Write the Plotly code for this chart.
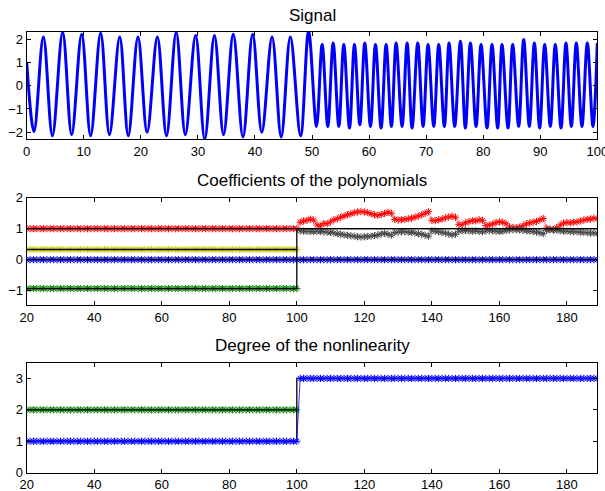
import plotly.graph_objects as go

# ---------------- data ----------------
# Signal: turning points (time, amplitude) of the measured signal
sig_t = [0.0, 1.28, 2.92, 4.5, 6.3, 7.88, 9.63, 11.2, 12.96, 14.5, 16.3, 17.8, 19.5,
         21.1, 22.9, 24.5, 26.2, 27.8, 29.6, 31.2, 32.9, 34.5, 36.2, 37.9, 39.6, 41.2,
         43.0, 44.6, 46.2, 48.0, 49.4,
         50.79, 51.78, 52.77, 53.71, 54.70, 55.57, 56.57, 57.44, 58.38, 59.25, 60.25,
         61.12, 62.11, 62.99, 63.92, 64.74, 65.79, 66.67, 67.54, 68.53, 69.47, 70.34,
         71.34, 72.21, 73.20, 74.02, 75.01, 76.01, 76.88, 77.76, 78.75, 79.63, 80.68,
         81.55, 82.54, 83.30, 84.35, 85.17, 86.22, 87.10, 88.09, 88.97, 89.90, 90.78,
         91.77, 92.64, 93.64, 94.51, 95.45, 96.32, 97.31, 98.25, 99.24, 100.0]
sig_v = [1.0, -1.97, 2.09, -2.15, 2.29, -2.1, 2.2, -2.15, 2.26, -2.1, 2.09, -2.15, 2.09,
         -2.0, 2.09, -2.15, 2.29, -2.1, 2.15, -2.3, 2.15, -2.1, 2.2, -2.2, 2.2, -2.0,
         2.09, -2.2, 2.09, -2.15, 2.33,
         -1.75, 1.76, -1.75, 1.83, -1.75, 1.76, -1.82, 1.76, -1.68, 1.83, -1.75,
         1.76, -1.82, 1.76, -1.75, 1.83, -1.75, 1.83, -1.82, 1.83, -1.75, 1.76,
         -1.75, 1.76, -1.75, 1.83, -1.75, 1.90, -1.82, 1.83, -1.75, 1.76, -1.82,
         1.76, -1.82, 1.76, -1.82, 1.76, -1.75, 1.98, -1.75, 1.83, -1.82, 1.76,
         -1.75, 1.76, -1.82, 1.83, -1.75, 1.83, -1.75, 1.83, -1.75, 1.83]

# Coefficient estimates
k_first = list(range(20, 101))     # samples 20..100
k_second = list(range(101, 190))   # samples 101..189
k_all = k_first + k_second

coef_red_after = [1.21, 1.25, 1.27, 1.31, 1.28, 1.12, 1.09, 1.17, 1.16, 1.22,
                  1.29, 1.32, 1.37, 1.41, 1.45, 1.48, 1.52, 1.54, 1.55, 1.54,
                  1.52, 1.48, 1.45, 1.43, 1.46, 1.49, 1.53, 1.50, 1.30, 1.28,
                  1.29, 1.30, 1.32, 1.34, 1.37, 1.41, 1.45, 1.50, 1.55, 1.27,
                  1.26, 1.29, 1.31, 1.35, 1.38, 1.40, 1.37, 1.14, 1.13, 1.19,
                  1.23, 1.26, 1.25, 1.29, 1.27, 1.10, 1.12, 1.15, 1.20, 1.22,
                  1.21, 1.16, 1.05, 1.04, 1.03, 1.05, 1.10, 1.16, 1.19, 1.21,
                  1.23, 1.28, 1.33, 1.02, 0.99, 0.97, 1.03, 1.12, 1.18, 1.20,
                  1.19, 1.21, 1.22, 1.25, 1.28, 1.30, 1.31, 1.34, 1.33]
coef_gray_after = [0.93, 0.92, 0.91, 0.91, 0.90, 0.92, 0.91, 0.90, 0.89, 0.88,
                   0.86, 0.84, 0.82, 0.80, 0.79, 0.77, 0.76, 0.74, 0.73, 0.74,
                   0.75, 0.76, 0.78, 0.80, 0.83, 0.85, 0.82, 0.79, 0.88, 0.89,
                   0.90, 0.90, 0.89, 0.88, 0.86, 0.84, 0.82, 0.79, 0.76, 0.93,
                   0.92, 0.90, 0.88, 0.86, 0.83, 0.80, 0.82, 0.92, 0.93, 0.94,
                   0.93, 0.92, 0.93, 0.91, 0.90, 0.93, 0.94, 0.93, 0.92, 0.91,
                   0.92, 0.94, 0.96, 0.97, 0.96, 0.96, 0.95, 0.93, 0.92, 0.91,
                   0.89, 0.87, 0.84, 0.95, 0.96, 0.96, 0.95, 0.93, 0.92, 0.92,
                   0.91, 0.90, 0.90, 0.89, 0.88, 0.87, 0.86, 0.86, 0.85]
coef_red = [1.0] * len(k_first) + coef_red_after
coef_yellow = [0.33] * len(k_first)
coef_blue = [0.0] * len(k_all)
coef_green = [-0.93] * len(k_first)

# True coefficients (step at sample 100)
true_one_x, true_one_y = [20, 189], [1.0, 1.0]
true_yel_x, true_yel_y = [20, 100], [0.33, 0.33]
true_zero_x, true_zero_y = [20, 189], [0.0, 0.0]
true_grn_x, true_grn_y = [20, 100, 100, 189], [-0.93, -0.93, 1.0, 1.0]

# Degree of the nonlinearity
deg_green = [2] * len(k_first)
deg_blue = [1] * len(k_first) + [3] * len(k_second)
true_deg2_x, true_deg2_y = [20, 100], [2, 2]
true_deg_x, true_deg_y = [20, 100, 100, 189], [1, 1, 3, 3]

# ---------------- styling ----------------
FONT = "Liberation Sans, Arial, Helvetica, sans-serif"
RED = "rgb(255,0,0)"
YEL = "rgb(210,210,0)"
BLUE = "rgb(0,0,255)"
GREEN = "rgb(0,128,0)"
GRAY = "rgb(70,70,70)"

fig = go.Figure()


def stars(x, y, color, xa, ya, size=6, lw=0.5):
    fig.add_trace(go.Scatter(
        x=x, y=y, mode="lines+markers", xaxis=xa, yaxis=ya,
        line=dict(color=color, width=lw),
        marker=dict(symbol="asterisk-open", size=size,
                    line=dict(color=color, width=1)),
        showlegend=False, hoverinfo="skip"))


def black(x, y, xa, ya):
    fig.add_trace(go.Scatter(
        x=x, y=y, mode="lines", xaxis=xa, yaxis=ya,
        line=dict(color="black", width=1.3),
        showlegend=False, hoverinfo="skip"))


# Signal
fig.add_trace(go.Scatter(
    x=sig_t, y=sig_v, mode="lines", xaxis="x", yaxis="y",
    line=dict(color=BLUE, width=3, shape="spline", smoothing=1.0),
    showlegend=False, hoverinfo="skip"))

# Coefficients
stars(k_all, coef_red, RED, "x2", "y2")
stars(k_second, coef_gray_after, GRAY, "x2", "y2")
stars(k_first, coef_yellow, YEL, "x2", "y2")
stars(k_first, coef_green, GREEN, "x2", "y2")
stars(k_all, coef_blue, BLUE, "x2", "y2")
black(true_one_x, true_one_y, "x2", "y2")
black(true_yel_x, true_yel_y, "x2", "y2")
black(true_zero_x, true_zero_y, "x2", "y2")
black(true_grn_x, true_grn_y, "x2", "y2")

# Degree
stars(k_first, deg_green, GREEN, "x3", "y3")
black(true_deg2_x, true_deg2_y, "x3", "y3")
black(true_deg_x, true_deg_y, "x3", "y3")
stars(k_all, deg_blue, BLUE, "x3", "y3", lw=0.8)

axis_common = dict(
    showline=True, linecolor="black", linewidth=1, mirror="ticks",
    ticks="inside", ticklen=4, tickcolor="black", tickwidth=1,
    showgrid=False, zeroline=False, automargin=False,
    ticklabeloverflow="allow",
    tickfont=dict(family=FONT, size=13, color="black"),
)

x_dom = [26.7 / 605, 597.3 / 605]


def ydom(top_px, bottom_px):
    return [1 - bottom_px / 491, 1 - top_px / 491]


fig.update_layout(
    width=605, height=491,
    margin=dict(l=0, r=0, t=0, b=0),
    paper_bgcolor="white", plot_bgcolor="white",
    font=dict(family=FONT, color="black"),
    xaxis=dict(axis_common, domain=x_dom, range=[0, 100], tickvals=list(range(0, 101, 10)),
               anchor="y"),
    yaxis=dict(axis_common, domain=ydom(32, 139.3), range=[-2.3, 2.3],
               tickvals=[-2, -1, 0, 1, 2], anchor="x"),
    xaxis2=dict(axis_common, domain=x_dom, range=[20, 189], tickvals=list(range(20, 181, 20)),
                anchor="y2"),
    yaxis2=dict(axis_common, domain=ydom(197.7, 305), range=[-1.46, 2],
                tickvals=[-1, 0, 1, 2], anchor="x2"),
    xaxis3=dict(axis_common, domain=x_dom, range=[20, 189], tickvals=list(range(20, 181, 20)),
                anchor="y3"),
    yaxis3=dict(axis_common, domain=ydom(362.7, 472.7), range=[0, 3.5],
                tickvals=[0, 1, 2, 3], anchor="x3"),
)

titles = [("Signal", 15), ("Coefficients of the polynomials", 180),
          ("Degree of the nonlinearity", 345)]
for text, y_px in titles:
    fig.add_annotation(text=text, xref="paper", yref="paper",
                       x=(x_dom[0] + x_dom[1]) / 2, y=1 - y_px / 491,
                       xanchor="center", yanchor="middle", showarrow=False,
                       font=dict(family=FONT, size=17, color="black"))

fig.write_html("out.html")
